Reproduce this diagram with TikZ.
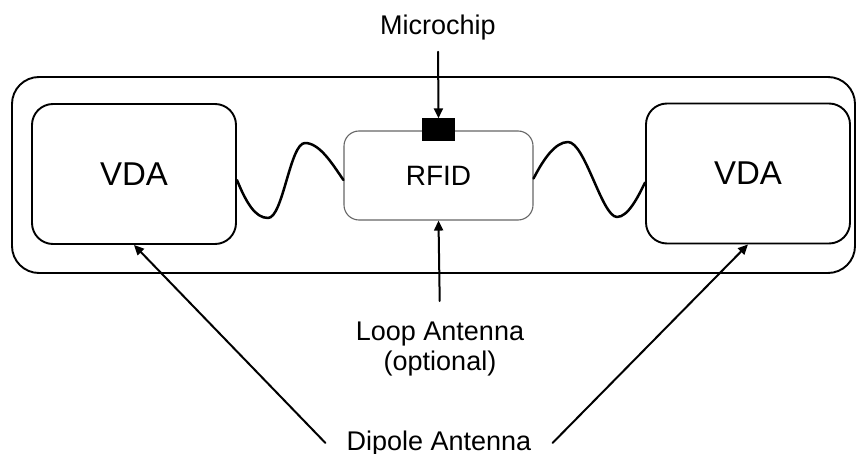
\documentclass[tikz,border=0pt]{standalone}
\usepackage{fontspec}
\setmainfont{Liberation Sans}
\usetikzlibrary{arrows.meta}

\begin{document}
\begin{tikzpicture}[x=1pt, y=-1pt, >={Triangle[length=10pt,width=9pt]}, line cap=round, line join=round,
  vdabox/.style={draw, line width=1.9pt, rounded corners=21pt, minimum width=204pt, minimum height=140pt, inner sep=0pt, font=\fontsize{33}{36}\selectfont},
  lbl/.style={inner sep=2pt, font=\fontsize{27}{30}\selectfont, align=center},
  wave/.style={line width=2.5pt},
  pointer/.style={->, line width=2pt}]

\useasboundingbox (0,0) rectangle (857,454);

\node[draw, line width=1.9pt, rounded corners=27pt, minimum width=843pt, minimum height=196pt] (board) at (433.5,175) {};
\node[vdabox] (vdaL) at (134,174) {VDA};
\node[vdabox] (vdaR) at (748,173.5) {VDA};
\node[draw=black!60, line width=1.1pt, rounded corners=15pt, minimum width=189pt, minimum height=89pt, inner sep=0pt, font=\fontsize{28}{30}\selectfont] (rfid) at (438.5,175.5) {RFID};
\node[fill=black, minimum width=33pt, minimum height=23pt, inner sep=0pt] (chip) at (438.5,130) {};

% labels
\node[lbl, anchor=base] (chiplbl) at (438,35) {Microchip};
\node[lbl, anchor=north] (looplbl) at (440,320) {Loop Antenna\\(optional)};
\node[lbl, anchor=base, inner xsep=21pt] (dipole) at (439,450) {Dipole Antenna};

% antenna wires
\draw[wave] ([yshift=-6pt]vdaL.east) .. controls (246,202) and (255,218) .. (268,218)
  .. controls (283,218) and (290,143) .. (305,143)
  .. controls (320,143) and (333,165) .. ([yshift=-4.5pt]rfid.west);
\draw[wave] ([yshift=-3pt]rfid.east) .. controls (543,160) and (555,142) .. (568,142)
  .. controls (585,142) and (602,217) .. (617,217)
  .. controls (628,217) and (638,197) .. ([yshift=-9pt]vdaR.west);

% pointers
\draw[pointer, shorten <=9pt] (chiplbl.south) -- (chip.north);
\draw[pointer, shorten <=19pt] (looplbl.north) -- (rfid.south);
\draw[pointer] (dipole.west) -- (vdaL.south);
\draw[pointer] (dipole.east) -- (vdaR.south);

\end{tikzpicture}
\end{document}
